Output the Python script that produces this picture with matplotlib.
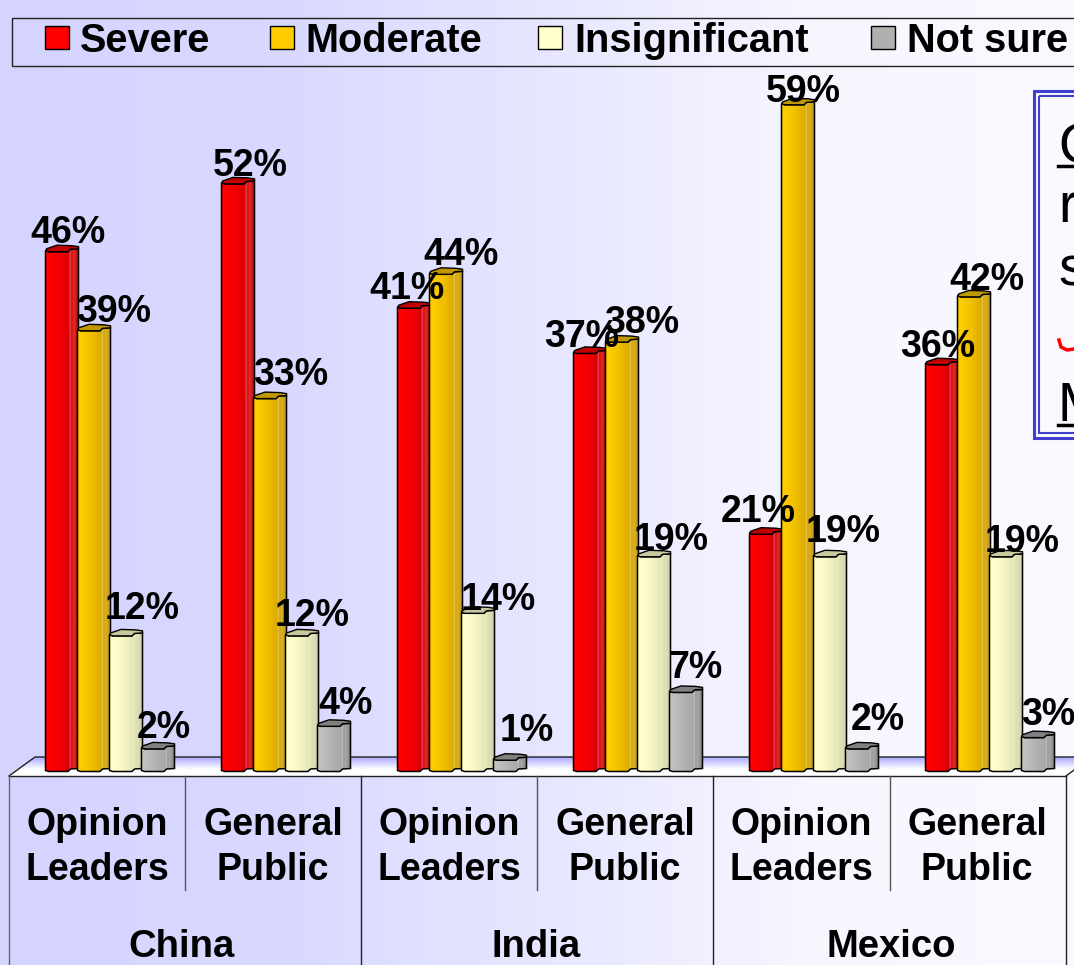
import numpy as np
import matplotlib
matplotlib.use("Agg")
import matplotlib.pyplot as plt
from matplotlib.colors import LinearSegmentedColormap
from matplotlib.patches import Polygon, Rectangle

plt.rcParams['font.family'] = ['Liberation Sans', 'DejaVu Sans']

# ---------- data ----------
countries = ["China", "India", "Mexico"]
audiences = ["Opinion\nLeaders", "General\nPublic"]
series = ["Severe", "Moderate", "Insignificant", "Not sure"]
severe = [46, 52, 41, 37, 21, 36]
moderate = [39, 33, 44, 38, 59, 42]
insignificant = [12, 12, 14, 19, 19, 19]
not_sure = [2, 4, 1, 7, 2, 3]
note_letters = ["Q", "r", "s", "J", "M"]

# ---------- style / placement ----------
W, H = 1074, 965
PX_PER_PCT = 11.3
BASE_Y = 770
BAR_W = 33
FIRST_X = 45.5
STEP_X = 32
GROUP_X = 176
base_col = ['#f00000', '#f0c000', '#f6f6c4', '#b0b0b0']
stops = [
    ['#ff0000', '#ff0000', '#f20000', '#dc0000', '#e85858', '#d40000', '#e03030', '#b80000'],
    ['#ffcc00', '#ffcc00', '#f0c000', '#dcaa00', '#e8c848', '#d0a400', '#d8b030', '#c09800'],
    ['#ffffcc', '#ffffcc', '#f6f6c6', '#e4e4b4', '#eeeec8', '#dcdcae', '#e0e0b8', '#ccccA0'],
    ['#c6c6c6', '#c0c0c0', '#b4b4b4', '#a8a8a8', '#c0c0c0', '#989898', '#a8a8a8', '#808080'],
]
stop_pos = [0, .1, .4, .7, .74, .78, .84, 1]
cap_col = ['#c00000', '#c09800', '#c8c89c', '#808080']
label_cx = [68, 114, 142, 164, 250, 291, 312, 346, 407, 461, 498, 527,
            582, 642, 671, 696, 758, 803, 843, 878, 938, 987, 1022, 1048]
label_base = [243, 322, 619, 738, 176, 385, 626, 714, 299, 265, 610, 741,
              347, 333, 550, 678, 522, 102, 542, 730, 357, 290, 552, 725]

fig = plt.figure(figsize=(W / 100, H / 100), dpi=100)

# pixel-space layer for the slide furniture
bg = fig.add_axes([0, 0, 1, 1], zorder=0)
bg.set_xlim(0, W); bg.set_ylim(H, 0); bg.axis('off')
bg_cmap = LinearSegmentedColormap.from_list('bg', ['#d4d4ff', '#d8d8ff', '#e6e6ff', '#f6f6ff', '#f9f9ff'])
bg.imshow(np.linspace(0, 1, 256)[None, :], extent=[0, W, H, 0], cmap=bg_cmap, aspect='auto', zorder=0)

# floor of the 3D chart
floor = Polygon([(9, 776), (35, 757), (W, 757), (W, 770), (1066, 776)], closed=True,
                fc='none', ec='none', transform=bg.transData)
bg.add_patch(floor)
fl_cmap = LinearSegmentedColormap.from_list('fl', ['#a8a8ff', '#d8d8ff', '#ffffff', '#ffffff'])
im = bg.imshow(np.linspace(0, 1, 64)[:, None], extent=[0, W, 776, 757], cmap=fl_cmap,
               aspect='auto', zorder=1, origin='upper')
im.set_clip_path(floor)
bg.plot([9, 35, W], [776, 757, 757], color='#222222', lw=1, zorder=2)
bg.plot([1066, W], [776, 770], color='#222222', lw=1, zorder=2)
bg.plot([9, 1066], [776, 776], color='#222222', lw=1, zorder=2)
for x, y1, c in [(9, H, '#666666'), (185, 890, '#555555'), (361, H, '#222222'),
                 (537, 890, '#555555'), (713, H, '#222222'), (890, 890, '#555555'), (1066, H, '#222222')]:
    bg.plot([x, x], [776, y1], color=c, lw=1, zorder=2)
bg.set_xlim(0, W); bg.set_ylim(H, 0)

# axis labels
for i, name in enumerate(audiences * 3):
    bg.text(97 + i * 176, 847.5, name, ha='center', va='center', fontsize=27, weight='bold',
            linespacing=1.3, color='black', zorder=3)
for i, name in enumerate(countries):
    bg.text(181 + i * 355, 947, name, ha='center', va='center', fontsize=27.5, weight='bold',
            color='black', zorder=3)

# legend
bg.add_patch(Rectangle((12, 18), W, 48, fc='none', ec='#222222', lw=1, zorder=3))
for name, c, kx, tx in zip(series, ['#ff0000', '#ffcc00', '#ffffcc', '#b0b0b0'],
                           [45, 270, 538, 871], [80, 305, 574, 907]):
    bg.add_patch(Rectangle((kx, 26), 24, 23, fc=c, ec='black', lw=1, zorder=3))
    bg.text(tx, 52, name, ha='left', va='baseline', fontsize=28.6, weight='bold', color='black', zorder=3)

# note box (runs off the slide)
bg.add_patch(Rectangle((1034, 91), 80, 347, fc='#f9f9ff', ec='#4040cc', lw=2.2, zorder=3))
bg.add_patch(Rectangle((1039, 96), 80, 337, fc='none', ec='#4040cc', lw=1.5, zorder=3))
for s, y, c, ul in zip(note_letters, [162, 222, 285, 0, 421], ['k', 'k', 'k', 'r', 'k'], [1, 0, 0, 0, 1]):
    if c == 'r':
        bg.plot(np.array([1059, 1061, 1067, 1074]), [340, 347, 350, 349], color='#ff0000', lw=2.5, zorder=4)
        continue
    bg.text(1058, y, s, fontsize=40, ha='left', va='baseline', color=c, zorder=4)
    if ul:
        bg.plot([1058, W], [y + 4, y + 4], color='k', lw=2.5, zorder=4)

# chart layer: x in bar widths, y in percent
ax = fig.add_axes([0, 0, 1, 1], zorder=1)
ax.patch.set_alpha(0)
ax.axis('off')
ax.set_xlim(-FIRST_X / STEP_X, (W - FIRST_X) / STEP_X)
ax.set_ylim(-(H - BASE_Y) / PX_PER_PCT, BASE_Y / PX_PER_PCT)

w_u = BAR_W / STEP_X
py = 1 / PX_PER_PCT
all_values = [severe, moderate, insignificant, not_sure]
z = 5
for k, values in enumerate(all_values):
    cmap = LinearSegmentedColormap.from_list(f'c{k}', list(zip(stop_pos, stops[k])))
    xs = np.arange(len(values)) * (GROUP_X / STEP_X) + k
    bars = ax.bar(xs, values, width=w_u, align='edge', color=base_col[k], lw=0, zorder=z + k)
    for x0, v, rect in zip(xs, values, bars):
        # front curve of the faceted column, relative to width (fx) and pixels (fy)
        fx = np.array([0, .10, .68, .76, 1])
        fy = np.array([-.5, -1.5, -1.5, 1, 1.5]) * py
        bottom = list(zip(x0 + fx * w_u, fy))
        top = list(zip(x0 + fx[::-1] * w_u, v + fy[::-1]))
        body = Polygon(bottom + top, closed=True, fc='none', ec='black', lw=1.1,
                       transform=ax.transData, zorder=z + k + .3)
        ax.add_patch(body)
        rect.set_clip_path(body)
        g = ax.imshow(np.linspace(0, 1, 128)[None, :], extent=[x0, x0 + w_u, -3 * py, v + 2 * py],
                      cmap=cmap, aspect='auto', zorder=z + k + .1)
        g.set_clip_path(body)
        capx = np.array([0, .10, .68, .76, 1, 1, .80, .35, .04])
        capy = np.array([-.5, -1.5, -1.5, 1, 1.5, 3.5, 4.5, 5, 1.5]) * py
        ax.add_patch(Polygon(list(zip(x0 + capx * w_u, v + capy)), closed=True, fc=cap_col[k],
                             ec='black', lw=1, zorder=z + k + .4))
ax.set_xlim(-FIRST_X / STEP_X, (W - FIRST_X) / STEP_X)
ax.set_ylim(-(H - BASE_Y) / PX_PER_PCT, BASE_Y / PX_PER_PCT)

# data labels
flat = [all_values[k][g] for g in range(6) for k in range(4)]
for v, cx, by in zip(flat, label_cx, label_base):
    ax.text((cx - FIRST_X) / STEP_X, (BASE_Y - by) / PX_PER_PCT, f"{v}%", ha='center', va='baseline',
            fontsize=27, weight='bold', color='black', zorder=20)

fig.savefig('out.png', dpi=100)
